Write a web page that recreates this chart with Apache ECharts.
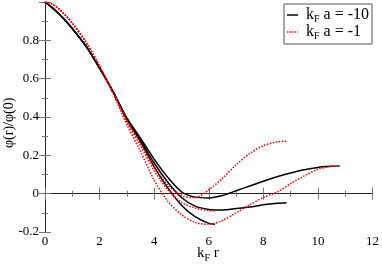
<!DOCTYPE html>
<html><head><meta charset="utf-8">
<script src="https://cdn.jsdelivr.net/npm/echarts@6/dist/echarts.min.js"></script>
<style>html,body{margin:0;padding:0;background:#fff}#c{width:382px;height:268px}</style>
</head><body><div id="c"></div>
<script>
var xTicks = [0, 2, 4, 6, 8, 10, 12];
var yTicks = [-0.2, 0, 0.2, 0.4, 0.6, 0.8, 1.0];
var legendNames = ['kFa=-10', 'kFa=-1'];

// solid black curves (k_F a = -10)
var blackTop = [[0,1],[0.25,0.972],[0.5,0.94],[0.75,0.902],[1,0.862],[1.5,0.77],[2,0.655],[2.5,0.53],[3,0.395],[3.5,0.29],[4,0.18],[4.5,0.085],[5,0.01],[5.5,-0.018],[6,-0.022],[6.5,-0.01],[7,0.015],[7.5,0.04],[8,0.065],[8.5,0.088],[9,0.108],[9.5,0.125],[10,0.137],[10.5,0.143],[10.8,0.145]];
var blackMid = [[0,1],[0.25,0.972],[0.5,0.94],[0.75,0.902],[1,0.862],[1.5,0.77],[2,0.655],[2.5,0.53],[3,0.39],[3.5,0.28],[4,0.16],[4.5,0.06],[5,-0.02],[5.5,-0.065],[6,-0.082],[6.5,-0.085],[7,-0.078],[7.5,-0.07],[8,-0.058],[8.5,-0.05],[8.85,-0.047]];
var blackLow = [[0,1],[0.25,0.972],[0.5,0.94],[0.75,0.902],[1,0.862],[1.5,0.77],[2,0.655],[2.5,0.53],[3,0.385],[3.5,0.27],[4,0.14],[4.5,0.03],[5,-0.06],[5.5,-0.12],[6,-0.155],[6.23,-0.16]];
// dotted red curves (k_F a = -1)
var redTop = [[0,1],[0.25,0.99],[0.5,0.965],[0.75,0.93],[1,0.89],[1.5,0.79],[2,0.665],[2.5,0.525],[3,0.385],[3.5,0.26],[4,0.14],[4.5,0.045],[5,-0.01],[5.5,-0.02],[6,0.02],[6.5,0.08],[7,0.15],[7.5,0.21],[8,0.25],[8.5,0.27],[8.85,0.274]];
var redMid = [[0,1],[0.25,0.99],[0.5,0.965],[0.75,0.93],[1,0.89],[1.5,0.79],[2,0.665],[2.5,0.525],[3,0.375],[3.5,0.25],[4,0.12],[4.5,0.02],[5,-0.045],[5.5,-0.075],[6,-0.088],[6.23,-0.09]];
var redLow = [[0,1],[0.25,0.99],[0.5,0.965],[0.75,0.93],[1,0.89],[1.5,0.79],[2,0.665],[2.5,0.52],[3,0.36],[3.5,0.22],[4,0.07],[4.5,-0.04],[5,-0.11],[5.5,-0.15],[6,-0.16],[6.5,-0.14],[7,-0.1],[7.5,-0.058],[8,-0.02],[8.5,0.008],[9,0.052],[9.5,0.093],[10,0.127],[10.5,0.142],[10.8,0.145]];

var FONT = 'Liberation Serif';
function blackSeries(d){return {type:'line',name:legendNames[0],data:d,smooth:0.3,showSymbol:false,symbol:'none',lineStyle:{color:'#000',width:1.5,type:'solid'},itemStyle:{color:'#000'},z:3};}
function redSeries(d){return {type:'line',name:legendNames[1],data:d,smooth:0.3,showSymbol:false,symbol:'none',lineStyle:{color:'#ff0000',width:1.5,type:[1.5,1.5]},itemStyle:{color:'#ff0000'},z:4};}

var axisCommon = {
  axisLine:{show:true,lineStyle:{color:'#222',width:1}},
  axisTick:{show:true,inside:true,length:6,lineStyle:{color:'#777',width:1}},
  minorTick:{show:true,splitNumber:2,length:3,lineStyle:{color:'#777',width:1}},
  splitLine:{show:false}
};
var sub = {fontFamily:FONT,fontSize:10,verticalAlign:'bottom',lineHeight:18};
var nrm = {fontFamily:FONT,fontSize:16,lineHeight:16,verticalAlign:'middle'};
var nrm0 = Object.assign({}, nrm, {padding:[0,0,0,3]});

var chart = echarts.init(document.getElementById('c'));
chart.setOption({
  animation:false,
  backgroundColor:'#fff',
  grid:{left:45,right:8,top:2,bottom:36,containLabel:false},
  xAxis:[
    Object.assign({type:'value',min:xTicks[0],max:xTicks[xTicks.length-1],interval:2,position:'bottom',
      axisLabel:{color:'#000',fontFamily:FONT,fontSize:13,margin:3}},axisCommon),
    Object.assign({type:'value',min:xTicks[0],max:xTicks[xTicks.length-1],interval:2,position:'top',
      axisLabel:{show:false}},axisCommon)
  ],
  yAxis:[
    Object.assign({type:'value',min:yTicks[0],max:yTicks[yTicks.length-1],interval:0.2,position:'left',
      axisLabel:{color:'#000',fontFamily:FONT,fontSize:13,margin:6,formatter:function(v){return Math.abs(v-1)<1e-9?'':String(Math.round(v*10)/10);}}},axisCommon),
    Object.assign({type:'value',min:yTicks[0],max:yTicks[yTicks.length-1],interval:0.2,position:'right',
      axisLabel:{show:false}},axisCommon)
  ],
  legend:{
    show:true,orient:'vertical',left:284,top:4,
    data:[
      {name:legendNames[0],icon:'path://M0,0h12v1.6h-12z'},
      {name:legendNames[1],icon:'path://M0,0h1.4v1.6h-1.4z M2.8,0h1.4v1.6h-1.4z M5.6,0h1.4v1.6h-1.4z M8.4,0h1.4v1.6h-1.4z M11.2,0h0.8v1.6h-0.8z'}
    ],
    backgroundColor:'#fff',borderColor:'#555',borderWidth:1,borderRadius:0,
    padding:[3,3,3,3],itemGap:0,itemWidth:11,itemHeight:1.6,
    selectedMode:false,
    textStyle:{color:'#000',fontFamily:FONT,fontSize:16,rich:{n:nrm,n0:nrm0,s:sub}},
    formatter:function(n){return n===legendNames[0]?'{n0|k}{s|F}{n| a = -10}':'{n0|k}{s|F}{n| a = -1}';}
  },
  graphic:[
    {type:'text',left:197,top:246,style:{text:'{n|k}{s|F}{n| r}',rich:{n:{fontFamily:FONT,fontSize:15,lineHeight:16,verticalAlign:'middle',fill:'#000'},s:{fontFamily:FONT,fontSize:10,lineHeight:20,verticalAlign:'bottom',fill:'#000'}}}},
    {type:'text',x:2,y:148,rotation:Math.PI/2,style:{text:'φ(r)/φ(0)',fontFamily:FONT,fontSize:14,fill:'#000',textVerticalAlign:'top'}}
  ],
  series:[blackSeries(blackTop),blackSeries(blackMid),blackSeries(blackLow),redSeries(redTop),redSeries(redMid),redSeries(redLow)]
});
</script></body></html>
